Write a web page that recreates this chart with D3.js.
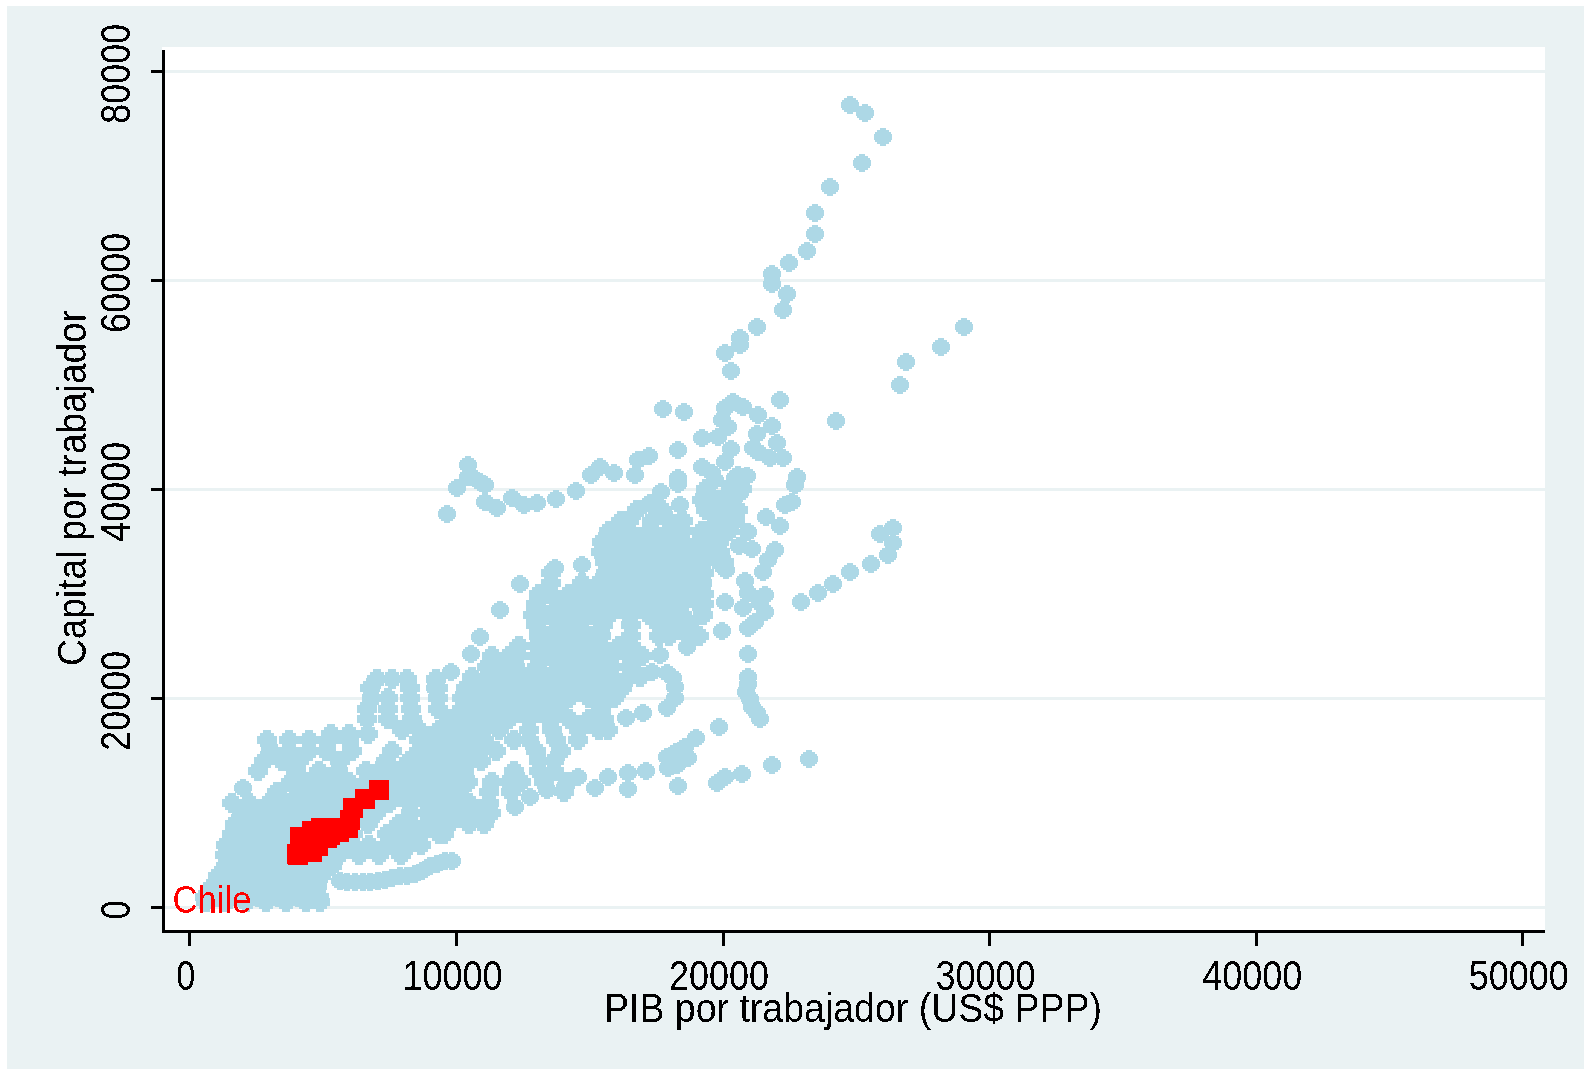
<!DOCTYPE html>
<html>
<head>
<meta charset="utf-8">
<script src="https://cdn.jsdelivr.net/npm/d3@7"></script>
<style>
html,body{margin:0;padding:0;background:#fff;overflow:hidden}
text{font-family:"Liberation Sans",Arial,sans-serif;fill:#000}
</style>
</head>
<body>
<svg id="chart" width="1584" height="1069"></svg>
<script>
const xTicks = [0,10000,20000,30000,40000,50000];
const yTicks = [0,20000,40000,60000,80000];
const xTitle = "PIB por trabajador (US$ PPP)";
const yTitle = "Capital por trabajador";
const highlightName = "Chile";

// Dense cloud, read row by row: [capital per worker, [GDP per worker, ...]]
const cloudLow = [
[500,[640,1390,2140,2890,3640,4390,4900]],
[1000,[600,1125,1875,2625,3375,4125,4875]],
[2000,[900,1500,2250,3000,3750,4500,4800]],
[3000,[1090,1875,2625,3375,4125,4875,4950]],
[4000,[1390,1800,2250,3000,3750,4500,5250,5360]],
[5000,[1350,1875,2625,3375,4125,4875,5625,6375,7125,7950]],
[6000,[1390,1800,2250,3000,3750,4500,5250,6000,6750,7500,8250,8700]],
[7000,[1610,2100,2625,3375,4125,4875,5625,6150,7425,7875,8625,9375,9560]],
[8000,[1700,1875,2250,3000,3750,4500,5250,6000,6710,7875,8250,9000,9750,10500,11060]],
[9000,[1990,2625,3375,4125,4875,5625,6375,7010,8325,8900,9375,10125,10875,11325]],
[10000,[1610,2250,3000,3750,4500,5250,6000,6750,7500,8250,9000,9750,10500,11250]],
[11000,[3300,4125,4875,5625,6375,7125,7875,8625,9375,10125,11250,12075,14060]],
[12000,[3830,4500,5250,6000,6750,7500,8250,9000,9750,10460,11360,12000,12450,13310,14210]],
[13000,[2590,4010,4875,5590,6640,7125,7875,8625,9375,10090,10300,12190,13125,13690]],
[14000,[2810,3490,4125,5660,7390,8250,9000,9750,10500,10950,13125,13690]],
[15000,[3075,3750,4500,5140,6110,7610,8625,9375,10125,10875,11510,13010,13950]],
[16000,[2925,3750,4500,5250,6000,8625,9000,9750,10500,11060,12190,12750,13760,14590]]
];
const cloudMiddle = [
[16560,[5300,6000,6700]],
[17000,[7990,8625,9375,10125,10875,11625,12750,13610,14625,15375,15710]],
[18000,[6680,7460,8360,9750,10500,11250,12000,12750,13500,14250,15000,15560]],
[19000,[6680,7460,8330,9340,10240,10875,11625,12375,13125,13875,15450]],
[20000,[6860,7460,8290,9340,10240,10500,11250,12000,12750,13500,14250,15000,15750,15940]],
[21000,[6790,8290,9340,10390,10875,11625,12375,13125,13875,14625,15375,16125,16240]],
[21800,[7050,7610,8170,9260]],
[22000,[10610,11250,12000,12750,13500,14250,15000,15750,16500,16910]],
[23000,[11175,11625,12225,13050,13875,14625,15375,15860,16580]],
[24000,[11360,12000,12300,13050,13500,14250,15000,15750,16500,16990]],
[25000,[12375,13050,13875,14625,15375,16125,16580]],
[26000,[13125,13500,14250,15000,15450,16580,17620,18000,18750,19125]],
[27000,[13010,13875,14625,15525,16580,17625,18375,18750]],
[28000,[12900,13500,14250,15000,15750,16500,17250,18000,18490,19275]],
[29000,[13010,13875,14625,15375,16125,16875,17625,18375,19125,19310]],
[30000,[13125,13500,14250,15000,15750,16500,17250,18000,18750,19310]]
];
const cloudUpper = [
[31000,[13575,14740,15375,16125,16875,17625,18375,19125,19240]],
[32000,[13575,15640,15750,16500,17250,18000,18750,19310]],
[33000,[15600,16125,16875,17625,18375,19125,19875,20060]],
[34000,[15450,15750,16500,17250,18000,18750,19500,19910]],
[35000,[15490,16125,16875,17625,18375,19125,19875]],
[36000,[15750,16500,17250,18000,18525,19240,19500,20250]],
[37000,[16200,16500,17360,18000,18525,19800,20475]],
[38000,[16800,17740,19390,20025,20590]],
[39000,[19240,19875,20330]],
[40000,[19390,20325,20740]]
];
// Separate points, read one at a time: [GDP per worker, capital per worker]
const upperTrail = [
[24790,76750],[25350,75990],[26030,73690],[25240,71200],[24040,68900],[23480,66420],[23480,64410],[23180,62780],
[22500,61630],[21860,60580],[21860,59620],[22430,58660],[22280,57130],[21300,55510],[20660,54450],[20660,53780],
[20100,53020],[20330,51300],[29060,55510],[28200,53590],[26890,52160],[26660,49960],[22160,48520],[24260,46510]
];
const upperCluster = [
[17780,47660],[18560,47370],[19240,44880],[18340,43730],[18340,41060],[18340,40480],[20400,48330],[20780,47850],
[21340,47080],[21860,46030],[21300,45270],[22050,44400],[22280,42970],[21790,42970],[21340,43540],[21150,43930],
[20100,47750],[19990,46610],[20210,45940],[19840,44980],[20330,43830],[20100,42590],[19240,42110],[19610,41530],
[20930,41250],[20590,41340],[20360,40390],[20660,39620],[22800,41150],[22730,40390],[22610,38760],[22350,38470],
[17290,38660],[17700,39720],[18410,38470],[19725,40860],[20475,41060],[18410,36360]
];
const arcTrail = [
[9680,37610],[10050,40100],[10460,42300],[10610,41150],[10460,41150],[10910,40670],[11100,40390],[11100,38760],
[11550,38180],[12110,39140],[12560,38470],[13050,38660],[13760,39050],[14510,39810],[15080,41340],[15410,42110],
[15940,41530],[16730,41340],[16840,42780],[17250,43160]
];
const rightTrail = [
[22950,29190],[23590,30050],[24150,30910],[24790,32060],[25580,32830],[26210,33690],[26400,34830],[25910,35700],[26400,36270],
[20850,31200],[20960,30050],[20780,28610],[20100,29190],[21410,29090],[21600,28230],[21230,27270],[20960,26700],[19990,26410],
[21530,32060],[21710,33210],[21980,34160],[21110,34260],[20630,34550],[20960,35890],[21640,37320],[22160,36460],[20140,32250],[21600,29860]
];
const lowerRightTrail = [
[20960,24210],[20960,22010],[20960,21340],[20890,20580],[21040,19900],[21110,19140],[21300,18570],[21410,17990],
[17660,24120],[17360,22490],[17930,22390],[18150,21920],[18230,21050],[18230,20000],[17930,19040],[18680,24880],
[17030,18570],[16390,18090],[19880,17230],[19010,16170],[18600,15310],[18260,14830],[17930,14360],[18710,14260],
[18300,13590],[17960,13300],[18340,11580],[17140,13020],[16460,12820],[16460,11290],[15710,12440],[15230,11390],
[14590,12440],[14100,11480],[20740,12730],[20100,12440],[19800,11870],[21860,13590],[23250,14160],[13430,11200],
[12790,10530],[12230,9570]
];
const leftEdge = [
[12410,30910],[11660,28420],[10910,25840],[10580,24210],[9830,22490],[13730,32440],[14740,32730],[2030,11390],[9230,20960]
];
const lowBand = [
[5660,2490],[5925,2400],[6225,2390],[6500,2400],[6790,2440],[7070,2500],[7350,2580],[7610,2800],[7910,2970],[8175,3000],
[8475,3160],[8740,3500],[9040,3920],[9300,4100],[9600,4400],[9860,4400]
];
// Chile's own trajectory
const chileGdp = [7125,6580,6150,6040,5960,5625,5475,4950,5290,5175,4840,4610,4610,4160,4090,4050,4540,4160];
const chileCapital = [11230,10360,9500,8400,7590,7200,7590,7590,6920,6630,5870,5290,7300,6730,5000,5100,6440,5960];

const cloudPoints = [...cloudLow,...cloudMiddle,...cloudUpper].flatMap(([c,gs])=>gs.map(g=>[g,c]));
const otherPoints = [...upperTrail,...upperCluster,...arcTrail,...rightTrail,...lowerRightTrail,...leftEdge,...lowBand];
const chilePoints = chileGdp.map((g,i)=>[g,chileCapital[i]]);

const BG="#eaf2f3", BLUE="#add8e6", RED="#ff0000";
const svg=d3.select("#chart");
const defs=svg.append("defs");
const f=defs.append("filter").attr("id","crisp").attr("color-interpolation-filters","sRGB")
  .attr("x","-5%").attr("y","-5%").attr("width","110%").attr("height","110%");
f.append("feComponentTransfer").append("feFuncA").attr("type","discrete").attr("tableValues","0 0 1 1");

svg.append("rect").attr("x",7).attr("y",6).attr("width",1577).attr("height",1063).attr("fill",BG);
svg.append("rect").attr("x",162).attr("y",47).attr("width",1383).attr("height",884).attr("fill","#fff");

const x=d3.scaleLinear().domain([0,50000]).range([189.3,1522.3]);
const y=d3.scaleLinear().domain([0,80000]).range([907.3,71.3]);

// gridlines
svg.append("g").selectAll("line").data(yTicks).join("line")
  .attr("x1",165).attr("x2",1545).attr("y1",d=>y(d)).attr("y2",d=>y(d))
  .attr("stroke",BG).attr("stroke-width",3).attr("shape-rendering","crispEdges");

// markers: stepped diamonds
const stepDiamond="M-3,-9H3V-7H6V-5H8V-3H9V3H8V5H6V7H3V9H-3V7H-6V5H-8V3H-9V-3H-8V-5H-6V-7H-3Z";
const stepDiamondDense="M-4,-10H4V-7H7V-4H10V4H7V7H4V10H-4V7H-7V4H-10V-4H-7V-7H-4Z";
const place=d=>`translate(${Math.round(x(d[0]))},${Math.round(y(d[1]))})`;
svg.append("g").attr("shape-rendering","crispEdges").selectAll("path").data(cloudPoints).join("path")
  .attr("d",stepDiamondDense).attr("fill",BLUE).attr("transform",place);
svg.append("g").attr("shape-rendering","crispEdges").selectAll("path").data(otherPoints).join("path")
  .attr("d",stepDiamond).attr("fill",BLUE).attr("transform",place);
svg.append("g").attr("shape-rendering","crispEdges").selectAll("rect").data(chilePoints).join("rect")
  .attr("x",d=>x(d[0])-10).attr("y",d=>y(d[1])-10).attr("width",20).attr("height",20).attr("fill",RED);

// axes
const xAxis=svg.append("g").attr("transform","translate(0,931)")
  .call(d3.axisBottom(x).tickValues(xTicks).tickSize(15).tickPadding(0).tickFormat(d3.format("d")));
const yAxis=svg.append("g").attr("transform","translate(163.5,0)")
  .call(d3.axisLeft(y).tickValues(yTicks).tickSize(13).tickPadding(0).tickFormat(d3.format("d")));
[xAxis,yAxis].forEach(a=>{
  a.select(".domain").remove();
  a.selectAll("line").attr("stroke","#000").attr("stroke-width",3).attr("shape-rendering","crispEdges");
  a.attr("font-family",null).attr("font-size",null);
});
xAxis.selectAll("text")
  .attr("dy",null).attr("y",null).attr("text-anchor","middle")
  .attr("font-size",42).attr("fill","#000").attr("filter","url(#crisp)")
  .attr("textLength",d=>String(d).length===1?19:100).attr("lengthAdjust","spacingAndGlyphs")
  .attr("transform","translate(-4,59)");
yAxis.selectAll("text")
  .attr("dy",null).attr("x",null).attr("text-anchor","middle")
  .attr("font-size",42).attr("fill","#000").attr("filter","url(#crisp)")
  .attr("textLength",d=>String(d).length===1?19:100).attr("lengthAdjust","spacingAndGlyphs")
  .attr("transform","translate(-33.5,2) rotate(-90)");

svg.append("line").attr("x1",163.5).attr("x2",163.5).attr("y1",50).attr("y2",932)
  .attr("stroke","#000").attr("stroke-width",3).attr("shape-rendering","crispEdges");
svg.append("line").attr("x1",162).attr("x2",1545).attr("y1",931).attr("y2",931)
  .attr("stroke","#000").attr("stroke-width",3).attr("shape-rendering","crispEdges");

// titles
svg.append("text").attr("x",853).attr("y",1022).attr("text-anchor","middle")
  .attr("font-size",40).attr("textLength",498).attr("lengthAdjust","spacingAndGlyphs")
  .attr("filter","url(#crisp)").text(xTitle);
svg.append("text").attr("transform","translate(85.7,488) rotate(-90)").attr("text-anchor","middle")
  .attr("font-size",40).attr("textLength",356).attr("lengthAdjust","spacingAndGlyphs")
  .attr("filter","url(#crisp)").text(yTitle);
svg.append("text").attr("x",172.5).attr("y",913).attr("font-size",39)
  .attr("textLength",79).attr("lengthAdjust","spacingAndGlyphs")
  .attr("filter","url(#crisp)").style("fill",RED).text(highlightName);
</script>
</body>
</html>
